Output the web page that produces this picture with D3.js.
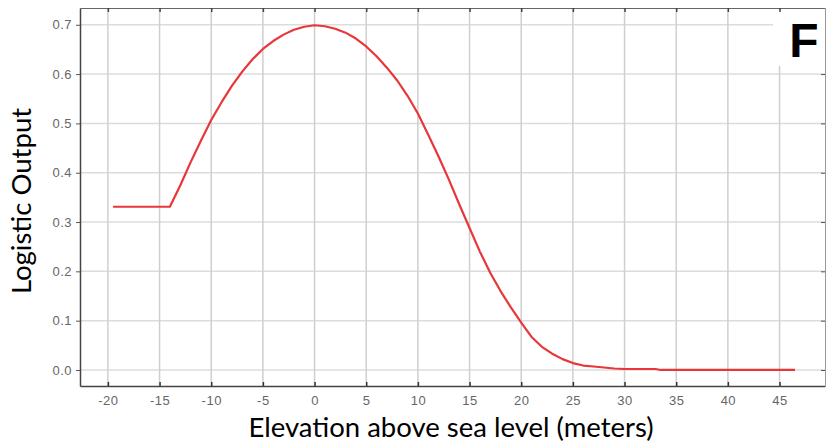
<!DOCTYPE html>
<html>
<head>
<meta charset="utf-8">
<script src="https://cdn.jsdelivr.net/npm/d3@7"></script>
<style>
  body { margin: 0; background: #fff; }
  svg { display: block; }
  .tick text { font-family: "Liberation Sans", Arial, sans-serif; font-size: 13px; fill: #666; letter-spacing: 0.5px; }
</style>
</head>
<body>
<div id="chart"></div>
<script>
var width = 827,
    height = 443;

// logistic response vs. elevation
var elevation = [-19.5, -14, -13, -12, -11, -10, -9, -8, -7, -6, -5, -4, -3, -2, -1,
    0, 1, 2, 3, 4, 5, 6, 7, 8, 9, 10, 11, 12, 13, 14, 15, 16, 17, 18, 19, 20,
    21, 22, 23, 24, 25, 26, 27, 28, 29, 30, 33, 33.5, 40, 46.5];
var output = [0.331, 0.331, 0.374, 0.421, 0.465, 0.507, 0.543, 0.576, 0.605, 0.630, 0.651, 0.667, 0.680, 0.690, 0.696,
    0.699, 0.697, 0.692, 0.684, 0.672, 0.656, 0.636, 0.613, 0.587, 0.556, 0.520, 0.477, 0.433, 0.386, 0.336, 0.288, 0.240, 0.197, 0.160, 0.127, 0.096,
    0.067, 0.047, 0.033, 0.022, 0.014, 0.009, 0.007, 0.005, 0.003, 0.002, 0.002, 0.0, 0.0, 0.0];

var xTicks = [-20, -15, -10, -5, 0, 5, 10, 15, 20, 25, 30, 35, 40, 45];
var yTicks = [0.0, 0.1, 0.2, 0.3, 0.4, 0.5, 0.6, 0.7];

var margin = {top: 8, right: 2, bottom: 57, left: 80};

var x = d3.scaleLinear()
    .domain([-22.7, 49.4])
    .range([margin.left, width - margin.right]);

var y = d3.scaleLinear()
    .domain([-0.0325, 0.734])
    .range([height - margin.bottom, margin.top]);

var svg = d3.select("#chart").append("svg")
    .attr("width", width)
    .attr("height", height);

// grid
svg.append("g")
    .selectAll("line")
    .data(yTicks)
    .enter().append("line")
    .attr("x1", margin.left).attr("x2", width - margin.right)
    .attr("y1", function(d) { return y(d); })
    .attr("y2", function(d) { return y(d); })
    .attr("stroke", "#dcdcdc")
    .attr("stroke-width", 1.5);

svg.append("g")
    .selectAll("line")
    .data(xTicks)
    .enter().append("line")
    .attr("x1", function(d) { return x(d); })
    .attr("x2", function(d) { return x(d); })
    .attr("y1", margin.top).attr("y2", height - margin.bottom)
    .attr("stroke", "#cfcfcf")
    .attr("stroke-width", 1.5);

// panel letter box sits over the grid
svg.append("rect")
    .attr("x", 773).attr("y", 10)
    .attr("width", 54).attr("height", 56)
    .attr("fill", "#fff");

svg.append("text")
    .attr("x", 804).attr("y", 57)
    .attr("text-anchor", "middle")
    .style("font-family", "'Liberation Sans', Arial, sans-serif")
    .style("font-weight", "bold")
    .style("font-size", "48px")
    .text("F");

// axes
svg.append("g")
    .attr("transform", "translate(0," + (height - margin.bottom) + ")")
    .call(d3.axisBottom(x).tickValues(xTicks).tickSizeInner(-4).tickSizeOuter(0).tickPadding(10)
        .tickFormat(function(d) { return String(d); }))
    .call(function(g) {
      g.select(".domain").attr("stroke", "#444").attr("stroke-width", 1.5);
      g.selectAll(".tick line").attr("stroke", "#333").attr("stroke-width", 1.5);
    });

svg.append("g")
    .attr("transform", "translate(0," + margin.top + ")")
    .call(d3.axisTop(x).tickValues(xTicks).tickSizeInner(-4).tickSizeOuter(0).tickFormat(""))
    .call(function(g) {
      g.select(".domain").attr("stroke", "#666").attr("stroke-width", 1.2);
      g.selectAll(".tick line").attr("stroke", "#444").attr("stroke-width", 1.5);
    });

svg.append("g")
    .attr("transform", "translate(" + margin.left + ",0)")
    .call(d3.axisLeft(y).tickValues(yTicks).tickSizeInner(4).tickSizeOuter(0).tickPadding(4)
        .tickFormat(d3.format(".1f")))
    .call(function(g) {
      g.select(".domain").attr("stroke", "#444").attr("stroke-width", 1.5);
      g.selectAll(".tick line").attr("stroke", "#555");
    });

svg.append("g")
    .attr("transform", "translate(" + (width - margin.right) + ",0)")
    .call(d3.axisRight(y).tickValues(yTicks.slice(0, 7)).tickSizeInner(-4).tickSizeOuter(0).tickFormat(""))
    .call(function(g) {
      g.select(".domain").attr("stroke", "#999").attr("stroke-width", 1);
      g.selectAll(".tick line").attr("stroke", "#555");
    });

// curve
var line = d3.line()
    .x(function(d, i) { return x(elevation[i]); })
    .y(function(d) { return y(d); });

svg.append("path")
    .datum(output)
    .attr("fill", "none")
    .attr("stroke", "#e8363b")
    .attr("stroke-width", 2.2)
    .attr("stroke-linejoin", "round")
    .attr("d", line);

// titles
svg.append("text")
    .attr("x", 451).attr("y", 437)
    .attr("text-anchor", "middle")
    .style("font-family", "Lato, 'Open Sans', sans-serif")
    .style("font-size", "27.5px")
    .text("Elevation above sea level (meters)");

svg.append("text")
    .attr("transform", "translate(31,201) rotate(-90)")
    .attr("text-anchor", "middle")
    .style("font-family", "Lato, 'Open Sans', sans-serif")
    .style("font-size", "27.5px")
    .text("Logistic Output");
</script>
</body>
</html>
